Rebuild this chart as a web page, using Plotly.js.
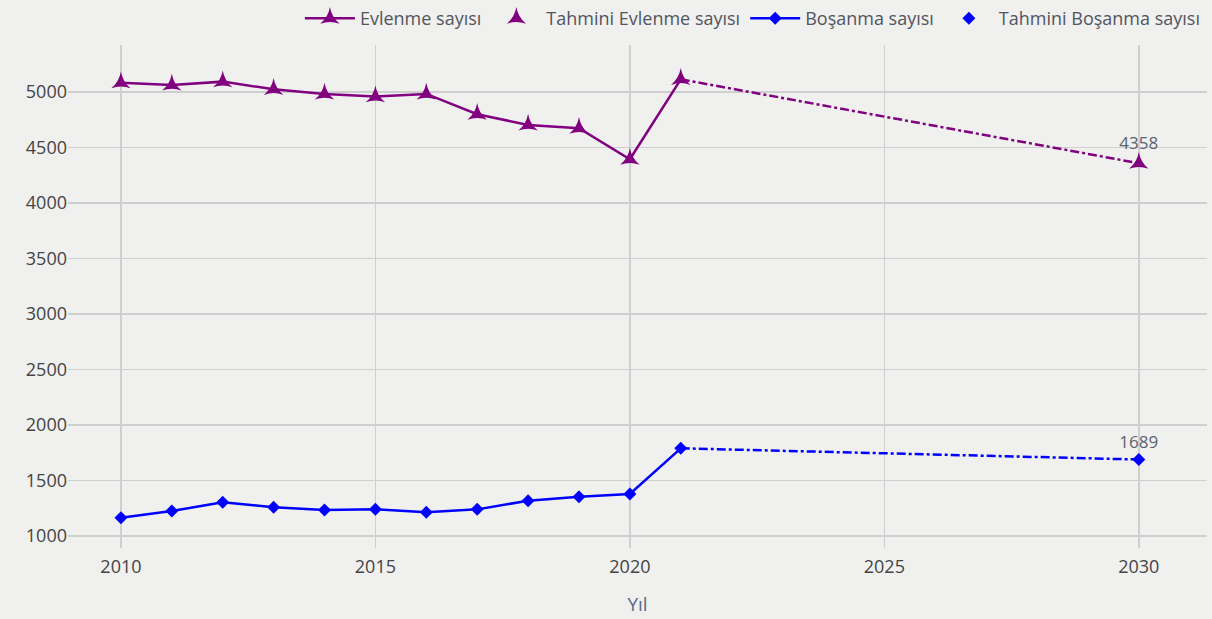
<!DOCTYPE html>
<html>
<head>
<meta charset="utf-8">
<script src="https://cdn.plot.ly/plotly-3.0.1.min.js"></script>
<style>html,body{margin:0;padding:0;background:#f0f0ef;}#chart{width:1212px;height:619px;}</style>
</head>
<body>
<div id="chart"></div>
<script>
const years = [2010, 2011, 2012, 2013, 2014, 2015, 2016, 2017, 2018, 2019, 2020, 2021];
const evlenme = [5084, 5063, 5093, 5024, 4982, 4958, 4982, 4799, 4703, 4673, 4394, 5114];
const bosanma = [1165, 1225, 1304, 1259, 1234, 1240, 1213, 1240, 1318, 1354, 1378, 1790];
const forecastYears = [2030];
const evlenmeForecast = [4358];
const bosanmaForecast = [1689];
const bridgeYears = [2021, 2030];
const evlenmeBridge = [5114, 4358];
const bosanmaBridge = [1790, 1689];

const purple = '#800080';
const blue = '#0000ff';

const traces = [
  {x: bridgeYears, y: evlenmeBridge, mode: 'lines', showlegend: false, hoverinfo: 'skip',
   line: {color: purple, width: 2.5, dash: 'dashdot'}},
  {x: bridgeYears, y: bosanmaBridge, mode: 'lines', showlegend: false, hoverinfo: 'skip',
   line: {color: blue, width: 2.5, dash: 'dashdot'}},
  {x: years, y: evlenme, name: 'Evlenme sayısı', mode: 'lines+markers',
   line: {color: purple, width: 2.5}, marker: {symbol: 'star-triangle-up', size: 14, color: purple}},
  {x: forecastYears, y: evlenmeForecast, name: 'Tahmini Evlenme sayısı', mode: 'markers+text',
   text: evlenmeForecast.map(String), textposition: 'top center',
   textfont: {color: '#5a6270', size: 17},
   marker: {symbol: 'star-triangle-up', size: 14, color: purple}},
  {x: years, y: bosanma, name: 'Boşanma sayısı', mode: 'lines+markers',
   line: {color: blue, width: 2.5}, marker: {symbol: 'diamond', size: 10, color: blue}},
  {x: forecastYears, y: bosanmaForecast, name: 'Tahmini Boşanma sayısı', mode: 'markers+text',
   text: bosanmaForecast.map(String), textposition: 'top center',
   textfont: {color: '#5a6270', size: 17},
   marker: {symbol: 'diamond', size: 10, color: blue}}
];

const layout = {
  width: 1212, height: 619,
  paper_bgcolor: '#f0f0ef', plot_bgcolor: '#f0f0ef',
  margin: {l: 68, r: 5, t: 45, b: 71},
  font: {family: 'Open Sans, sans-serif', color: '#444', size: 17},
  showlegend: true,
  legend: {orientation: 'h', xref: 'container', yref: 'container', x: 0.995, xanchor: 'right',
           y: 1, yanchor: 'top', itemwidth: 50,
           font: {size: 18, color: '#505560'}, bgcolor: 'rgba(0,0,0,0)', traceorder: 'normal'},
  xaxis: {range: [2008.96, 2031.34], dtick: 5, tick0: 2010, showgrid: true, gridcolor: '#cfcfcf',
          gridwidth: 1.5, zeroline: false, showline: false, ticks: '', ticklabelstandoff: 6,
          tickfont: {size: 18, color: '#444'},
          title: {text: 'Yıl', font: {size: 19, color: '#5a6b8a'}, standoff: 20}},
  yaxis: {range: [892, 5423], dtick: 500, tick0: 1000, showgrid: true, gridcolor: '#cfcfcf',
          gridwidth: 1.5, zeroline: false, showline: false, ticks: '',
          tickfont: {size: 18, color: '#444'}}
};

Plotly.newPlot('chart', traces, layout, {displayModeBar: false, staticPlot: true});
</script>
</body>
</html>
